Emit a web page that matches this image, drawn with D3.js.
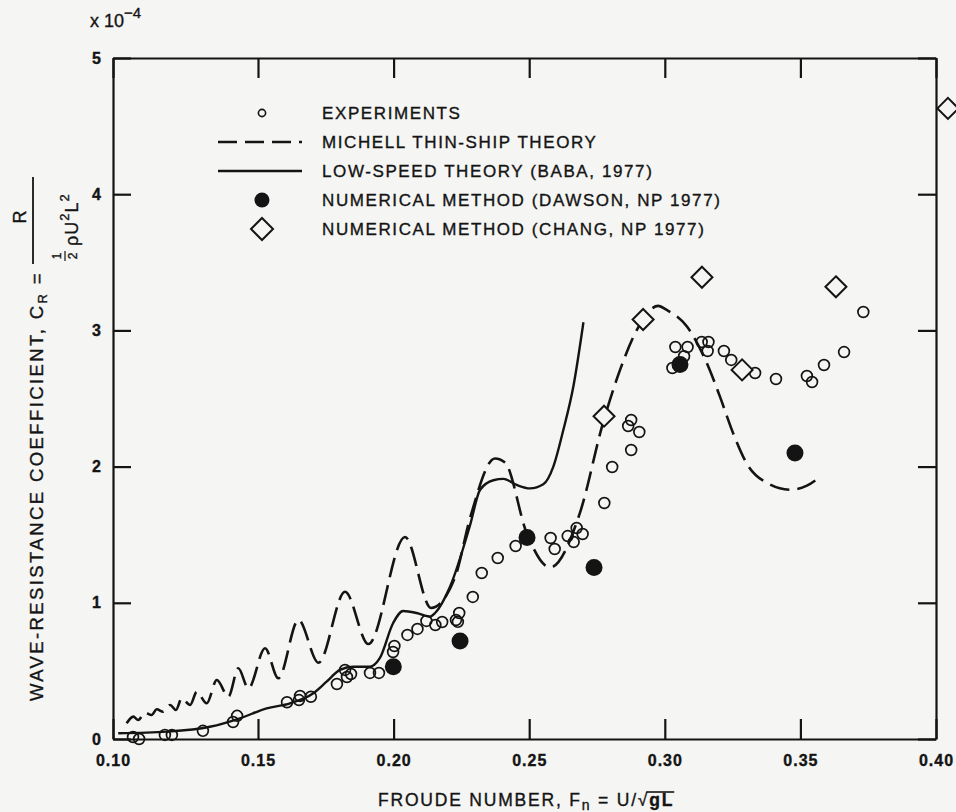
<!DOCTYPE html>
<html><head><meta charset="utf-8">
<script src="https://cdn.jsdelivr.net/npm/d3@7"></script>
<style>
body{margin:0;background:#f5f5f3}
svg{display:block}
text{font-family:"Liberation Sans",Arial,Helvetica,sans-serif;fill:#141414;stroke:#141414;stroke-width:0.35px}
</style></head>
<body><svg id="c" width="956" height="812"></svg>
<script>
// ---------------- data ----------------
const xTicks = [0.10, 0.15, 0.20, 0.25, 0.30, 0.35, 0.40];
const xTickLabels = ["0.10", "0.15", "0.20", "0.25", "0.30", "0.35", "0.40"];
const yTicks = [0, 1, 2, 3, 4, 5];
const yTickLabels = ["0", "1", "2", "3", "4", "5"];

const expX = [0.1069,0.109,0.1179,0.1203,0.131,0.1414,0.1428,0.1607,0.1651,0.1655,0.1695,0.1791,0.1821,0.1828,0.1843,0.1913,0.1946,0.1998,0.2003,0.2051,0.2088,0.2121,0.2154,0.2179,0.2230,0.2242,0.2237,0.2292,0.2325,0.2384,0.245,0.2579,0.2594,0.2642,0.2664,0.2675,0.2697,0.2777,0.2806,0.2876,0.2865,0.2876,0.2906,0.3028,0.3039,0.3071,0.3084,0.3136,0.3161,0.3158,0.3218,0.3245,0.3333,0.341,0.3524,0.3543,0.3587,0.3661,0.3732];
const expY = [0.015,0.0,0.03,0.03,0.06,0.125,0.17,0.27,0.286,0.316,0.31,0.404,0.507,0.455,0.477,0.485,0.485,0.639,0.683,0.764,0.808,0.867,0.837,0.859,0.874,0.925,0.86,1.043,1.219,1.329,1.417,1.476,1.395,1.49,1.446,1.549,1.505,1.733,1.997,2.122,2.298,2.342,2.254,2.724,2.878,2.81,2.878,2.915,2.915,2.849,2.849,2.783,2.687,2.643,2.665,2.621,2.746,2.841,3.135];

const michellX = [0.1047,0.1070,0.1087,0.1110,0.1133,0.1151,0.1173,0.1197,0.1217,0.1237,0.1266,0.1289,0.1323,0.1358,0.1398,0.1432,0.1467,0.1526,0.1575,0.1649,0.1723,0.1821,0.1907,0.2042,0.2138,0.2227,0.2283,0.2374,0.2411,0.2491,0.2577,0.2687,0.2772,0.2835,0.2896,0.2976,0.3007,0.3081,0.3155,0.3204,0.3253,0.3303,0.3377,0.3463,0.3524,0.3576];
const michellY = [0.115,0.164,0.14,0.193,0.176,0.218,0.200,0.250,0.213,0.299,0.250,0.347,0.262,0.433,0.311,0.519,0.372,0.666,0.446,0.874,0.560,1.081,0.697,1.483,0.962,1.19,1.63,2.06,2.03,1.51,1.26,1.66,2.32,2.71,3.00,3.18,3.15,3.03,2.76,2.51,2.24,2.02,1.88,1.83,1.86,1.93];

const babaX = [0.1018,0.1185,0.1334,0.1438,0.1532,0.1618,0.1704,0.1753,0.1802,0.1851,0.1912,0.1949,0.1998,0.2035,0.2085,0.2134,0.2153,0.2208,0.2282,0.2319,0.2368,0.2405,0.2454,0.2503,0.2552,0.2589,0.2626,0.2663,0.2700];
const babaY = [0.042,0.054,0.090,0.152,0.225,0.262,0.336,0.421,0.507,0.531,0.531,0.593,0.85,0.94,0.925,0.898,0.925,1.118,1.57,1.83,1.90,1.91,1.865,1.84,1.87,2.0,2.27,2.59,3.06];

const dawsonX = [0.1999,0.2245,0.2492,0.2739,0.3056,0.348];
const dawsonY = [0.53,0.72,1.48,1.26,2.75,2.10];

const changX = [0.2776,0.292,0.3137,0.3285,0.3631,0.4044];
const changY = [2.37,3.08,3.39,2.71,3.32,4.63];

const legendLabels = [
  "EXPERIMENTS",
  "MICHELL THIN-SHIP THEORY",
  "LOW-SPEED THEORY (BABA, 1977)",
  "NUMERICAL METHOD (DAWSON, NP 1977)",
  "NUMERICAL METHOD (CHANG, NP 1977)"
];

// ---------------- drawing ----------------
const INK = "#141414", BG = "#f5f5f3";
const svg = d3.select("#c");
svg.append("rect").attr("width",956).attr("height",812).attr("fill",BG);

const x = d3.scaleLinear().domain([0.10, 0.15, 0.40]).range([113, 258, 936]);
const y = d3.scaleLinear().domain([0, 5]).range([739, 58]);

function styleAxis(g){
  g.selectAll("path.domain").attr("stroke",INK).attr("stroke-width",2.2);
  g.selectAll(".tick line").attr("stroke",INK).attr("stroke-width",2.2);
  g.selectAll("text").attr("fill",INK).attr("font-family",'"Liberation Sans",Arial,sans-serif')
    .attr("font-size",16).attr("font-weight","bold");
}
const fmtX = d=>xTickLabels[xTicks.indexOf(d)];
const fmtY = d=>yTickLabels[yTicks.indexOf(d)];

svg.append("g").attr("transform",`translate(0,${y(0)})`)
  .call(d3.axisBottom(x).tickValues(xTicks).tickSize(-20).tickSizeOuter(0).tickPadding(16).tickFormat(fmtX))
  .call(styleAxis)
  .call(g=>g.selectAll("text").style("letter-spacing","1px"));
svg.append("g").attr("transform",`translate(0,${y(5)})`)
  .call(d3.axisTop(x).tickValues(xTicks).tickSize(-20).tickSizeOuter(0).tickFormat(""))
  .call(styleAxis);
svg.append("g").attr("transform",`translate(${x(0.10)},0)`)
  .call(d3.axisLeft(y).tickValues(yTicks).tickSize(-18).tickSizeOuter(0).tickPadding(12).tickFormat(fmtY))
  .call(styleAxis);
svg.append("g").attr("transform",`translate(${x(0.40)},0)`)
  .call(d3.axisRight(y).tickValues(yTicks).tickSize(-18).tickSizeOuter(0).tickFormat(""))
  .call(styleAxis);

// curves
const michell = michellX.map((v,i)=>[v, michellY[i]]);
const baba = babaX.map((v,i)=>[v, babaY[i]]);
const line = d3.line().x(d=>x(d[0])).y(d=>y(d[1])).curve(d3.curveMonotoneX);
svg.append("path").datum(michell).attr("d",line).attr("fill","none")
  .attr("stroke",INK).attr("stroke-width",2.6).attr("stroke-dasharray","20,8");
svg.append("path").datum(baba).attr("d",line).attr("fill","none")
  .attr("stroke",INK).attr("stroke-width",2.4);

// experiments
svg.append("g").selectAll("circle").data(expX.map((v,i)=>[v,expY[i]])).join("circle")
  .attr("cx",d=>x(d[0])).attr("cy",d=>y(d[1])).attr("r",5.4)
  .attr("fill","none").attr("stroke",INK).attr("stroke-width",1.7);

// Dawson
svg.append("g").selectAll("circle").data(dawsonX.map((v,i)=>[v,dawsonY[i]])).join("circle")
  .attr("cx",d=>x(d[0])).attr("cy",d=>y(d[1])).attr("r",8.5).attr("fill",INK);

// Chang diamonds
const diamond = s => `M0,${-s}L${s},0L0,${s}L${-s},0Z`;
svg.append("g").selectAll("path").data(changX.map((v,i)=>[v,changY[i]])).join("path")
  .attr("transform",d=>`translate(${x(d[0])},${y(d[1])})`).attr("d",diamond(10.5))
  .attr("fill",BG).attr("stroke",INK).attr("stroke-width",2);

// legend
const lg = svg.append("g").attr("transform","translate(262,113)");
const rowH = 29;
lg.append("circle").attr("cx",0).attr("cy",0).attr("r",3.6).attr("fill","none").attr("stroke",INK).attr("stroke-width",1.6);
lg.append("line").attr("x1",-44).attr("x2",40).attr("y1",rowH).attr("y2",rowH)
  .attr("stroke",INK).attr("stroke-width",2.6).attr("stroke-dasharray","19,8");
lg.append("line").attr("x1",-44).attr("x2",40).attr("y1",rowH*2).attr("y2",rowH*2)
  .attr("stroke",INK).attr("stroke-width",2.4);
lg.append("circle").attr("cx",0).attr("cy",rowH*3).attr("r",7.5).attr("fill",INK);
lg.append("path").attr("transform",`translate(0,${rowH*4})`).attr("d",diamond(11))
  .attr("fill",BG).attr("stroke",INK).attr("stroke-width",2);
lg.selectAll("text").data(legendLabels).join("text")
  .attr("x",60).attr("y",(d,i)=>i*rowH).attr("dy","0.36em")
  .attr("font-size",17).style("letter-spacing","1.6px").text(d=>d);

// x 10^-4
const mult = svg.append("text").attr("x",90).attr("y",27).attr("font-size",18);
mult.append("tspan").text("x 10");
mult.append("tspan").attr("dy",-9).attr("font-size",15).text("−4");

// x axis label
const xl = svg.append("text").attr("x",378).attr("y",806).attr("font-size",17.5).style("letter-spacing","1.8px");
xl.append("tspan").text("FROUDE NUMBER, F");
xl.append("tspan").attr("dy",4).attr("font-size",14).text("n");
xl.append("tspan").attr("dy",-4).text(" = U/");
xl.append("tspan").text("√");
xl.append("tspan").attr("font-weight","bold").text("gL");
{
  const node = xl.node();
  const n = node.getNumberOfChars();
  const sq = node.getExtentOfChar(n-3);
  const last = node.getExtentOfChar(n-1);
  svg.append("line").attr("x1",sq.x+sq.width-3).attr("x2",last.x+last.width)
    .attr("y1",sq.y+2).attr("y2",sq.y+2).attr("stroke",INK).attr("stroke-width",1.6);
}

// y axis label (rotated)
const yg = svg.append("g").attr("transform","rotate(-90)");
const ymain = yg.append("text").attr("x",-701).attr("y",43).attr("font-size",18.5).style("letter-spacing","2.4px");
ymain.append("tspan").text("WAVE-RESISTANCE COEFFICIENT, C");
ymain.append("tspan").attr("dy",4).attr("font-size",13).text("R");
ymain.append("tspan").attr("dy",-4).text(" =");
yg.append("line").attr("x1",-264).attr("x2",-177).attr("y1",33).attr("y2",33).attr("stroke",INK).attr("stroke-width",1.8);
yg.append("text").attr("x",-217).attr("y",26).attr("text-anchor","middle").attr("font-size",18).text("R");
yg.append("text").attr("x",-256).attr("y",61).attr("text-anchor","middle").attr("font-size",12).text("1");
yg.append("line").attr("x1",-261).attr("x2",-251).attr("y1",65).attr("y2",65).attr("stroke",INK).attr("stroke-width",1.2);
yg.append("text").attr("x",-256).attr("y",77).attr("text-anchor","middle").attr("font-size",12).text("2");
const den = yg.append("text").attr("x",-246).attr("y",78).attr("font-size",18).style("letter-spacing","1px");
den.append("tspan").text("ρU");
den.append("tspan").attr("dy",-9).attr("font-size",13).text("2");
den.append("tspan").attr("dy",9).text("L");
den.append("tspan").attr("dy",-9).attr("font-size",13).text("2");
</script>
</body></html>
